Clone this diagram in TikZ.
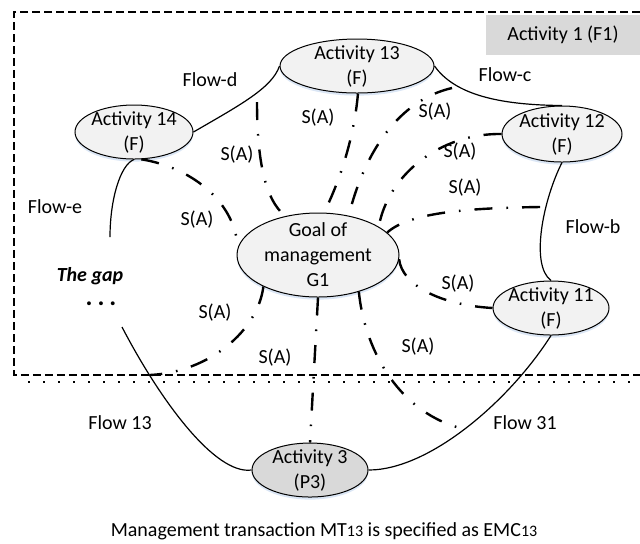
\documentclass[tikz,border=0pt]{standalone}
\usepackage{fontspec}
\setmainfont{Carlito}
\usetikzlibrary{shapes.geometric,shadows}
\definecolor{actfill}{RGB}{242,242,242}
\definecolor{darkfill}{RGB}{217,217,217}
\definecolor{shadowblue}{RGB}{175,200,232}
\begin{document}
\begin{tikzpicture}[x=0.5pt,y=-0.5pt,
  txt/.style={align=center,inner sep=0pt,font=\fontsize{10}{12.5}\selectfont},
  act/.style={ellipse,draw=black,line width=0.5pt,inner sep=0pt,
    fill=actfill,
    drop shadow={shadow xshift=0pt,shadow yshift=-1.3pt,fill=shadowblue,opacity=0.45}},
  actdark/.style={act,fill=darkfill},
  flow/.style={line width=0.6pt},
  sa/.style={line width=1.2pt,dash pattern=on 9pt off 7pt on 0.8pt off 7pt},
  border/.style={line width=1pt,dash pattern=on 4pt off 2pt},
  dotline/.style={line width=1.1pt,dash pattern=on 1pt off 6.5pt},
]
\useasboundingbox (0,0) rectangle (640,543);

% frame of activity 1
\draw[border] (640,12) -- (14,12) -- (14,375) -- (640,375);
\draw[dotline] (28,382) -- (640,382);
\node[txt,fill=darkfill,minimum width=77pt,minimum height=20pt] (f1) at (563,35) {Activity 1 (F1)};

% activities
\node[act,minimum width=77pt,minimum height=27pt] (a13) at (357,66) {};
\node[txt] (t13) at (a13) {Activity 13\\(F)};
\node[act,minimum width=59pt,minimum height=27pt] (a14) at (134,132) {};
\node[txt] (t14) at (a14) {Activity 14\\(F)};
\node[act,minimum width=60pt,minimum height=28pt] (a12) at (562,134) {};
\node[txt] (t12) at (a12) {Activity 12\\(F)};
\node[act,minimum width=58pt,minimum height=27pt] (a11) at (551,308) {};
\node[txt] (t11) at (a11) {Activity 11\\(F)};
\node[actdark,minimum width=58pt,minimum height=27pt] (a3) at (310,470) {};
\node[txt] (t3) at (a3) {Activity 3\\(P3)};
\node[act,minimum width=81pt,minimum height=42pt] (goal) at (318,255) {};
\node[txt] (tg) at (goal) {Goal of\\management\\G1};

% free ends
\coordinate (ge) at (110,237);
\coordinate (gs) at (122,327);
\coordinate (fd) at (257,102);
\coordinate (fc) at (452,88);
\coordinate (fb) at (540,207);
\coordinate (f31) at (460,428);
\coordinate (f13) at (150,375);

% flows
\draw[flow] (a14.east) .. controls (240,105) and (272,88) .. (a13.west);
\draw[flow] (a13.east) .. controls (455,95) and (500,105) .. (a12.north);
\draw[flow] (a12.south) .. controls (543,200) and (530,265) .. (a11.north);
\draw[flow] (a14.south) .. controls (120,165) and (110,200) .. (ge);
\draw[flow] (gs) .. controls (160,400) and (215,475) .. (a3.west);
\draw[flow] (a11.south) .. controls (510,400) and (430,470) .. (a3.east);

% S(A) relations
\draw[sa] (a14.-75) .. controls (195,168) and (236,205) .. (goal.175);
\draw[sa] (fd) .. controls (257,160) and (265,200) .. (goal.130);
\draw[sa] (a13.-88) .. controls (354,140) and (338,185) .. (goal.82);
\draw[sa] (fc) .. controls (400,100) and (365,150) .. (goal.52);
\draw[sa] (a12.west) .. controls (440,133) and (388,175) .. (goal.25);
\draw[sa] (fb) .. controls (470,208) and (410,212) .. (goal.18);
\draw[sa] (goal.-3) .. controls (402,285) and (440,305) .. (a11.west);
\draw[sa] (goal.south) -- (a3.north);
\draw[sa] (goal.-42) .. controls (364,345) and (395,410) .. (f31);
\draw[sa] (goal.-150) .. controls (258,330) and (210,372) .. (f13);

% labels
\node[txt] (lfd) at (210,80) {Flow-d};
\node[txt] (lfc) at (505,75) {Flow-c};
\node[txt] (lfb) at (593,227) {Flow-b};
\node[txt] (lfe) at (55,207) {Flow-e};
\node[txt] (lf13) at (120,423) {Flow 13};
\node[txt] (lf31) at (525,423) {Flow 31};

\node[txt] (s1) at (197,220) {S(A)};
\node[txt] (s2) at (237,155) {S(A)};
\node[txt] (s3) at (318,118) {S(A)};
\node[txt] (s4) at (435,112) {S(A)};
\node[txt] (s5) at (460,152) {S(A)};
\node[txt] (s6) at (465,188) {S(A)};
\node[txt] (s7) at (458,284) {S(A)};
\node[txt] (s8) at (275,358) {S(A)};
\node[txt] (s9) at (418,347) {S(A)};
\node[txt] (s10) at (215,313) {S(A)};

\node[txt,font=\fontsize{10}{12.5}\selectfont\bfseries\itshape] (gap) at (90,276) {The gap};
\node[txt,font=\fontsize{13}{13}\selectfont\bfseries,text height=1.6pt,text depth=0pt] (dots) at (101,304) {.\hspace{2.5pt}.\hspace{2.5pt}.};

\node[txt] (cap) at (324,531) {Management transaction MT{\fontsize{8}{10}\selectfont 13} is specified as EMC{\fontsize{8}{10}\selectfont 13}};
\end{tikzpicture}
\end{document}
